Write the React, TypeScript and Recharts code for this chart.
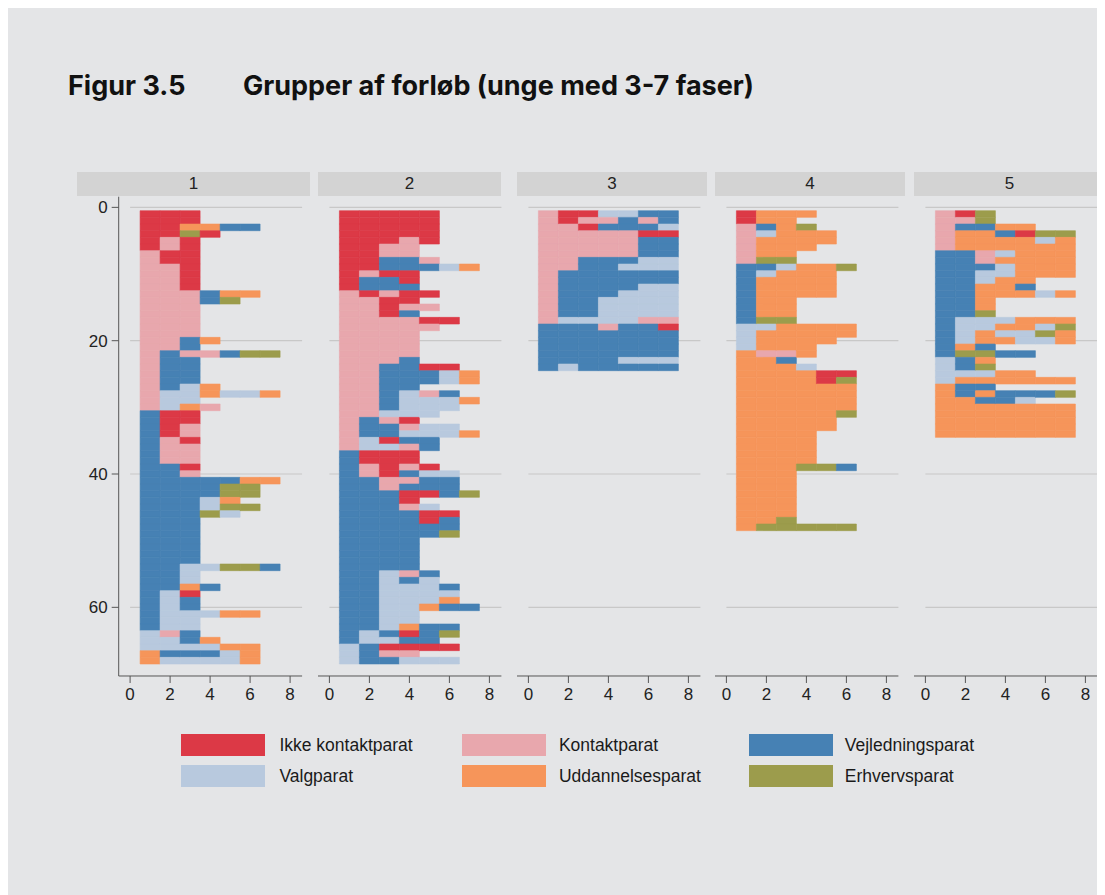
import React from "react";
import { Bar, BarChart, Cell, ReferenceLine, XAxis, YAxis } from "recharts";

// state codes: R ikke kontaktparat, P kontaktparat, B vejledningsparat,
// V valgparat, O uddannelsesparat, G erhvervsparat
const stateLabels: Record<string, string> = {
  R: "Ikke kontaktparat",
  P: "Kontaktparat",
  B: "Vejledningsparat",
  V: "Valgparat",
  O: "Uddannelsesparat",
  G: "Erhvervsparat",
};
const legendOrder = ["R", "P", "B", "V", "O", "G"];
const colors: Record<string, string> = {
  R: "#dc3946",
  P: "#e8a7ad",
  B: "#4681b4",
  V: "#b8c9de",
  O: "#f6955a",
  G: "#9c9c4c",
};

const group1 = [
  "RRR", "RRR", "RROOBB", "RRGR", "RPR", "RPR", "PRR", "PRR", "PPR", "PPR",
  "PPR", "PPR", "PPPBOO", "PPPBG", "PPP", "PPP", "PPP", "PPP", "PPP", "PPBO",
  "PPB", "PBPPBGG", "PBB", "PBB", "PBB", "PBB", "PBVO", "PVVOVVO", "PVV", "PVOP",
  "BRR", "BRR", "BRP", "BRP", "BPR", "BPP", "BPP", "BPP", "BBR", "BBP",
  "BBBBBOO", "BBBBGG", "BBBBGG", "BBBVO", "BBBVGG", "BBBGV", "BBB", "BBB", "BBB", "BBB",
  "BBB", "BBB", "BBB", "BBVVGGB", "BBV", "BBV", "BBOB", "BVR", "BVB", "BVB",
  "BVVVOO", "BVV", "BVV", "VPB", "VVBO", "VVVVOO", "OBBBVO", "OVVVVO",
];
const group2 = [
  "RRRRR", "RRRRR", "RRRRR", "RRRRR", "RRRPR", "RRPP", "RRPP", "RRBBP", "RRBBBVO", "RPRR",
  "RBBR", "RBBB", "PRPRR", "PPRR", "PPRPP", "PPRB", "PPPPRR", "PPPPP", "PPPP", "PPPP",
  "PPPP", "PPPP", "PPPB", "PPBBRR", "PPBBBVO", "PPBBBVO", "PPBB", "PPBVPB", "PPBVVVO", "PPBVVV",
  "PPVVV", "PBPR", "PBBPVV", "PBBVVVO", "PVRBB", "PVVPB", "BRRR", "BRRR", "BPRPR", "BPRBVV",
  "BBPPBB", "BBPBBB", "BBBRRBG", "BBBR", "BBBPV", "BBBBRR", "BBBBRB", "BBBBBB", "BBBBBG", "BBBB",
  "BBBB", "BBBB", "BBBB", "BBBB", "BBVPB", "BBVBV", "BBVVVB", "BBVVVV", "BBVVVO", "BBVVOBB",
  "BBVV", "BBVV", "BBVOBB", "BVBRBG", "BVVBB", "VBRRRR", "VBPP", "VBBVVV",
];
const group3 = [
  "PRRVVBB", "PRPPBPB", "PPRBBBV", "PPPPPRR", "PPPPPBB", "PPPPPBB", "PPPPPBB", "PPBBBVV",
  "PPBBVVV", "PBBBBBB", "PBBBBBB", "PBBBBVV", "PBBBVVV", "PBBVVVV", "PBBVVVV", "PBBVVVV",
  "PVVVVPP", "BBBPBBR", "BBBBBBB", "BBBBBBB", "BBBBBBB", "BBBBBBB", "BBBBVVV", "BVBBBBB",
];
const group4 = [
  "ROOO", "ROO", "PBOG", "PVOOO", "POOOO", "POOO", "POO", "PGG", "BBVOOG", "BVOOO",
  "BOOOO", "BOOOO", "BOOOO", "BOO", "BOO", "BOO", "BGG", "VVOOOO", "VOOOOO", "VOOOO",
  "VOOO", "OPPO", "OOB", "OOOV", "OOOORR", "OOOORG", "OOOOOO", "OOOOOO", "OOOOOO", "OOOOOO",
  "OOOOOG", "OOOOO", "OOOOO", "OOOO", "OOOO", "OOOO", "OOOO", "OOOO", "OOOGGB", "OOO",
  "OOO", "OOO", "OOO", "OOO", "OOO", "OOO", "OOG", "OGGGGG",
];
const group5 = [
  "PRG", "PPG", "PBBOO", "POOBRGG", "POOOOVO", "POOOOOO", "BBPVOOO", "BBPOOOO", "BBBVOOO", "BBVVOOO",
  "BBVOO", "BBOOB", "BBOOOVO", "BBO", "BBO", "BBG", "BVVVOOO", "BVVOOVG", "BVOVVGO", "BVOOVVO",
  "BOB", "BGGBB", "VBO", "VBG", "VVVOO", "VOOOOOO", "OBB", "OBOBBBG", "OOBBV", "OOOOOOO",
  "OOOOOOO", "OOOOOOO", "OOOOOOO", "OOOOOOO",
];

const groups = [group1, group2, group3, group4, group5];
const groupLabels = ["1", "2", "3", "4", "5"];
const yTicks = [0, 20, 40, 60];
const xTicks = [0, 2, 4, 6, 8];
const positions = [1, 2, 3, 4, 5, 6, 7];

// layout (page px)
const X_DOMAIN: [number, number] = [-0.57, 8.6];
const Y_DOMAIN: [number, number] = [-1.6, 70.3];
const UNIT_X = 20;
const PLOT_W = (X_DOMAIN[1] - X_DOMAIN[0]) * UNIT_X;
const PLOT_H = 479.3;
const ROW_H = PLOT_H / (Y_DOMAIN[1] - Y_DOMAIN[0]);
const Y_W = 58.7;
const TOP_M = 6.7;
const X_H = 40;
const plotLefts = [118.7, 318, 516.7, 715.3, 914];
const headerBoxes = [
  [77, 310],
  [318, 501],
  [517, 707],
  [715, 905],
  [914, 1105],
];

const FONT = "'Liberation Sans', Arial, sans-serif";
const TITLE_FONT = "Inter, 'Noto Sans', sans-serif";
const AXIS = "#555555";

function Panel({ seqs, left, showY }: { seqs: string[]; left: number; showY: boolean }) {
  const rows = seqs.map((seq, i) => {
    const d: Record<string, any> = { row: i + 1, pad: 0.5, seq };
    positions.forEach((p) => {
      d[`s${p}`] = seq[p - 1] ? 1 : null;
    });
    return d;
  });
  const yw = showY ? Y_W : 0;
  // a hair under the row height, otherwise recharts shrinks bars to 90%
  const barSize = ROW_H * 0.999;
  return (
    <div style={{ position: "absolute", left: left - yw - 8, top: 182 }}>
      <BarChart
        width={yw + PLOT_W + 4}
        height={TOP_M + PLOT_H + X_H}
        layout="vertical"
        data={rows}
        margin={{ top: TOP_M, right: 4, left: 0, bottom: 0 }}
        barCategoryGap={0}
        barGap={0}
      >
        {yTicks.map((t) => (
          <ReferenceLine
            key={t}
            segment={[
              { x: 0, y: t },
              { x: 8.6, y: t },
            ]}
            stroke="#c8c8c8"
            strokeWidth={1.2}
            zIndex={0}
          />
        ))}
        <XAxis
          type="number"
          domain={X_DOMAIN}
          allowDataOverflow
          ticks={xTicks}
          interval={0}
          height={X_H}
          tickSize={7}
          tickMargin={5}
          stroke={AXIS}
          tick={{ fill: "#222", fontSize: 17, fontFamily: FONT }}
        />
        <YAxis
          type="number"
          dataKey="row"
          domain={Y_DOMAIN}
          allowDataOverflow
          ticks={yTicks}
          interval={0}
          hide={!showY}
          width={Y_W}
          tickSize={7}
          tickMargin={4}
          stroke={AXIS}
          tick={{ fill: "#222", fontSize: 17, fontFamily: FONT }}
        />
        <Bar dataKey="pad" stackId="s" fill="transparent" barSize={barSize} isAnimationActive={false} />
        {positions.map((p) => (
          <Bar key={p} dataKey={`s${p}`} stackId="s" barSize={barSize} isAnimationActive={false}>
            {rows.map((r) => {
              const c = colors[r.seq[p - 1]];
              return c ? (
                <Cell key={r.row} fill={c} stroke={c} strokeWidth={0.6} />
              ) : (
                <Cell key={r.row} fill="none" />
              );
            })}
          </Bar>
        ))}
      </BarChart>
    </div>
  );
}

export default function App() {
  const titleStyle: React.CSSProperties = {
    position: "absolute",
    top: 61,
    fontFamily: TITLE_FONT,
    fontWeight: 700,
    fontSize: 27,
    color: "#111",
    whiteSpace: "nowrap",
  };
  return (
    <div
      style={{
        position: "relative",
        width: 1097,
        height: 887,
        background: "#e4e5e7",
        overflow: "hidden",
        fontFamily: FONT,
      }}
    >
      <div style={{ ...titleStyle, left: 60 }}>Figur 3.5</div>
      <div style={{ ...titleStyle, left: 235 }}>Grupper af forløb (unge med 3-7 faser)</div>

      {headerBoxes.map(([a, b], i) => (
        <div
          key={i}
          style={{
            position: "absolute",
            left: a - 8,
            top: 164,
            width: b - a,
            height: 24,
            background: "#d3d3d3",
            display: "flex",
            alignItems: "center",
            justifyContent: "center",
            fontSize: 17,
            color: "#222",
          }}
        >
          {groupLabels[i]}
        </div>
      ))}

      {groups.map((g, i) => (
        <Panel key={i} seqs={g} left={plotLefts[i]} showY={i === 0} />
      ))}

      {legendOrder.map((k, i) => {
        const col = i % 3;
        const row = Math.floor(i / 3);
        const sx = [181, 461.5, 748.5][col];
        const lx = [279.4, 558.9, 844.8][col];
        const sy = 734 + row * 31;
        return (
          <React.Fragment key={k}>
            <div
              style={{
                position: "absolute",
                left: sx - 8,
                top: sy - 8,
                width: 84,
                height: 22,
                background: colors[k],
              }}
            />
            <div
              style={{
                position: "absolute",
                left: lx - 8,
                top: sy - 8,
                height: 22,
                lineHeight: "22px",
                fontSize: 17.5,
                color: "#1a1a1a",
                whiteSpace: "nowrap",
              }}
            >
              {stateLabels[k]}
            </div>
          </React.Fragment>
        );
      })}
    </div>
  );
}
